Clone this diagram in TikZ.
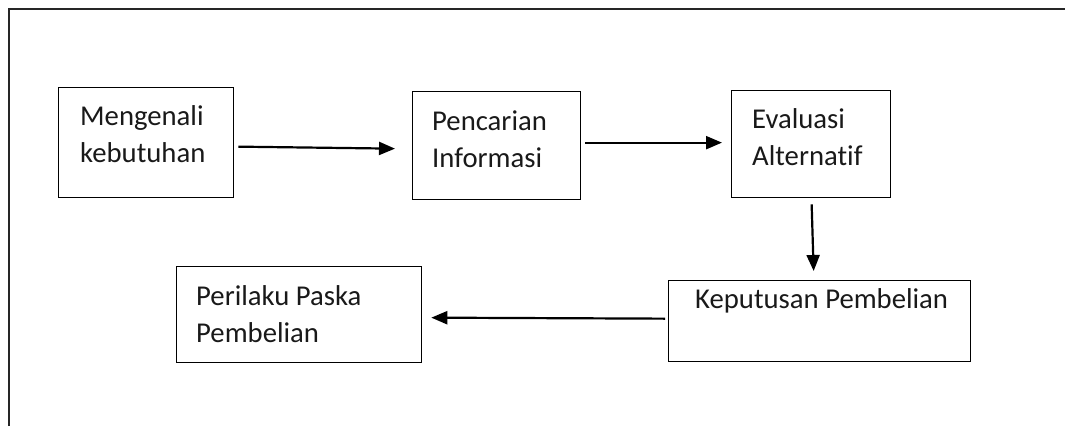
\documentclass[tikz,border=0pt]{standalone}
\usepackage{fontspec}
\setmainfont{Carlito}[Ligatures=NoCommon]
\usetikzlibrary{arrows.meta}
\begin{document}
\begin{tikzpicture}[x=1pt,y=-1pt,
  box/.style={draw=black, line width=1.3pt, rectangle, anchor=north west, inner sep=0pt},
  lbl/.style={anchor=base west, inner sep=0pt, align=left, font=\fontsize{28.7}{37}\selectfont, text=black!90},
  arr/.style={line width=2.2pt, -{Triangle[length=16pt,width=13pt]}},
  frame/.style={line width=2pt, draw=black!85}]
\useasboundingbox (0,0) rectangle (1065,426);
% outer frame
\coordinate (fbl) at (9,426);
\coordinate (ftl) at (9,9);
\coordinate (ftr) at (1065,9);
\draw[frame] (fbl) -- (ftl) -- (ftr);
% boxes
\node[box, minimum width=175pt, minimum height=110pt] (b1) at (58,87) {};
\node[box, minimum width=168pt, minimum height=108pt] (b2) at (412,91) {};
\node[box, minimum width=159pt, minimum height=107pt] (b3) at (731,90) {};
\node[box, minimum width=302pt, minimum height=81pt] (b4) at (668,280) {};
\node[box, minimum width=245pt, minimum height=96pt] (b5) at (176,266) {};
% labels (base = baseline of last line)
\node[lbl] (t1) at (80,162) {Mengenali\\kebutuhan};
\node[lbl] (t2) at (432,167) {Pencarian\\Informasi};
\node[lbl] (t3) at (752,165) {Evaluasi\\Alternatif};
\node[lbl] (t4) at (695,308) {Keputusan Pembelian};
\node[lbl] (t5) at (196,342) {Perilaku Paska\\Pembelian};
% arrows
\draw[arr] ([shift={(4,4)}]b1.east) -- ([shift={(-17,3)}]b2.west);
\draw[arr] ([shift={(4,-3)}]b2.east) -- ([shift={(-9,-1.5)}]b3.west);
\draw[arr] ([shift={(0.5,6)}]b3.south) -- ([shift={(-6,-9)}]b4.north);
\draw[arr] ([shift={(-3,-2.5)}]b4.west) -- ([shift={(9,3)}]b5.east);
\end{tikzpicture}
\end{document}
